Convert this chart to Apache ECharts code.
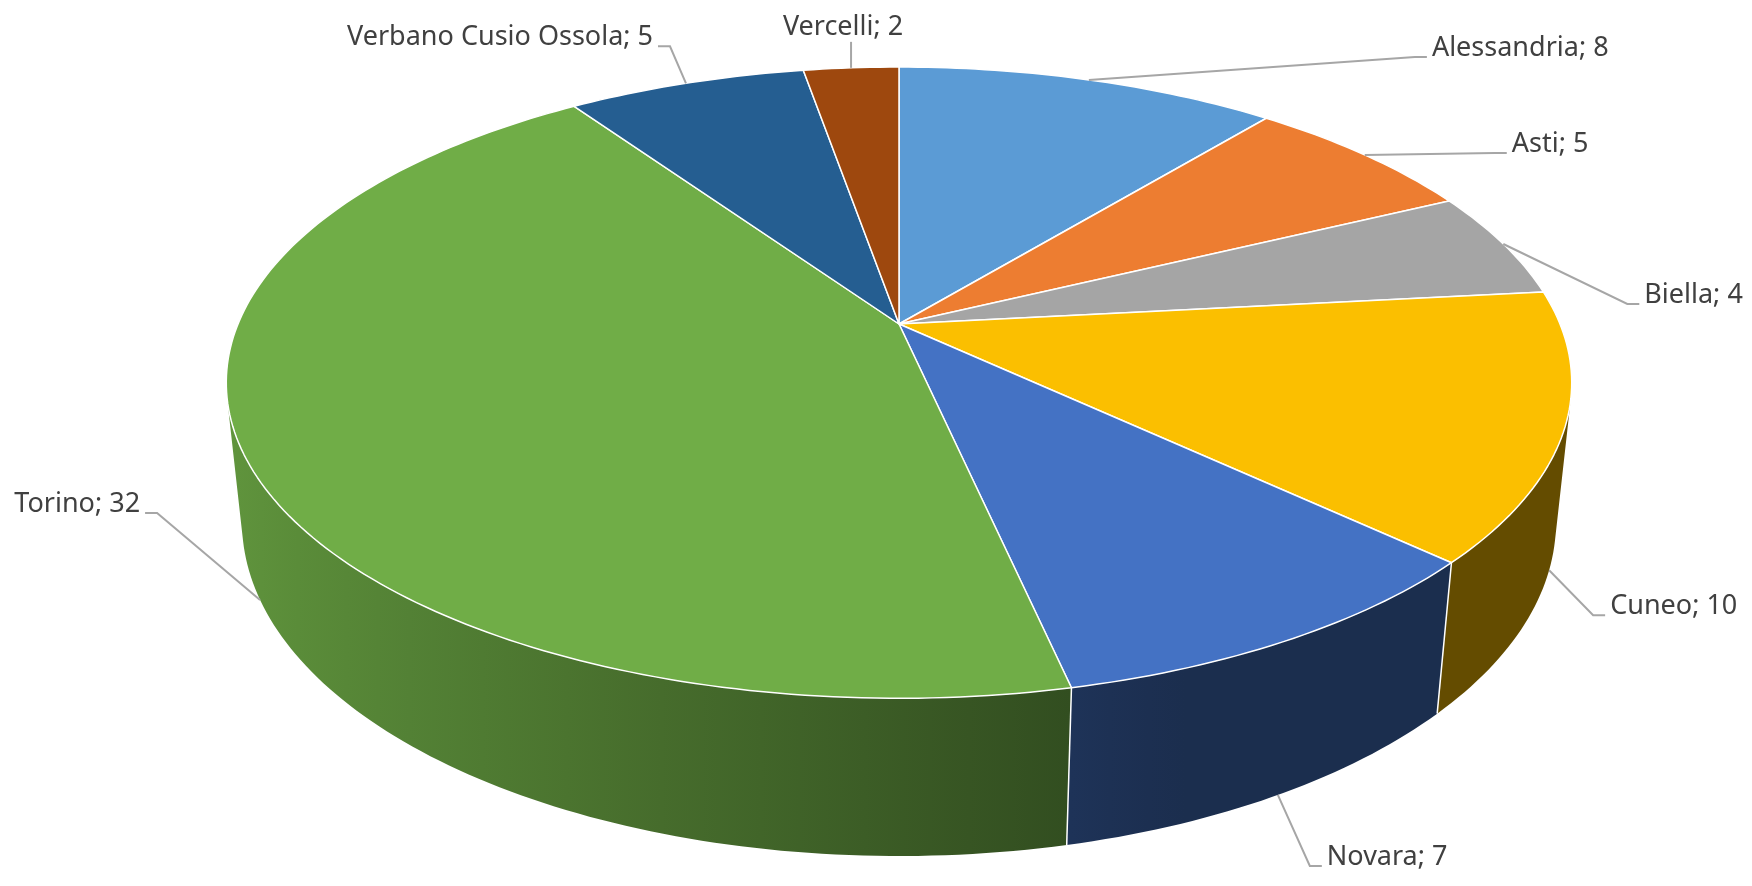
<!DOCTYPE html>
<html>
<head>
<meta charset="utf-8">
<script src="https://cdn.jsdelivr.net/npm/echarts@6/dist/echarts.min.js"></script>
<style>
  html, body { margin: 0; padding: 0; background: #fff; }
  #chart { width: 1752px; height: 886px; }
</style>
</head>
<body>
<div id="chart"></div>
<script>
// dati
var provinces = ['Alessandria', 'Asti', 'Biella', 'Cuneo', 'Novara', 'Torino', 'Verbano Cusio Ossola', 'Vercelli'];
var counts = [8, 5, 4, 10, 7, 32, 5, 2];
var sliceColors = ['#5B9BD5', '#ED7D31', '#A5A5A5', '#FBBF00', '#4472C4', '#70AD47', '#255E91', '#9E480E'];

// vista 3d (prospettiva stile Excel)
var CX = 899, CY = 324, SCALE = 661, DIST = 4.775, DEPTH = 0.24;
var TILT = 27.45 * Math.PI / 180;
var VIS_LO = Math.acos(-1 / (DIST * Math.cos(TILT)));
var VIS_HI = 2 * Math.PI - VIS_LO;

// posizione etichette: [dx, dy] dal punto di ancoraggio al gomito, direzione del tratto
var labelLayout = [
  [326, -23, 1], [130, -2, 1], [124, 60, 1], [44, 45, 1],
  [32, 71, 1], [-103, -87, -1], [-16, -37, -1], [0, -26, 0]
];

var total = counts.reduce(function (s, v) { return s + v; }, 0);
var startAng = [], endAng = [];
var acc = 0;
counts.forEach(function (v) {
  startAng.push(acc / total * 2 * Math.PI);
  acc += v;
  endAng.push(acc / total * 2 * Math.PI);
});

function proj(phi, y) {
  var X = Math.sin(phi), Z = -Math.cos(phi);
  var dep = DIST - (y * Math.sin(TILT) + Z * Math.cos(TILT));
  var k = DIST / dep;
  return [CX + SCALE * X * k, CY - SCALE * (y * Math.cos(TILT) - Z * Math.sin(TILT)) * k];
}

function arc(a, b, y) {
  var n = Math.max(2, Math.ceil(Math.abs(b - a) / (Math.PI / 180)));
  var pts = [];
  for (var j = 0; j <= n; j++) pts.push(proj(a + (b - a) * j / n, y));
  return pts;
}

function shadeFactor(phi) {
  var s = 0.45 + 0.35 * (0.208 - Math.sin(phi));
  return Math.max(0.40, Math.min(0.9, s));
}

function shade(hex, f) {
  var r = parseInt(hex.slice(1, 3), 16), g = parseInt(hex.slice(3, 5), 16), b = parseInt(hex.slice(5, 7), 16);
  return 'rgb(' + Math.round(r * f) + ',' + Math.round(g * f) + ',' + Math.round(b * f) + ')';
}

function renderSlice(params, api) {
  var i = params.dataIndex;
  var a0 = startAng[i], a1 = endAng[i];
  var base = sliceColors[i];
  var children = [];

  // faccia superiore
  children.push({
    type: 'polygon',
    shape: { points: [[CX, CY]].concat(arc(a0, a1, 0)) },
    style: { fill: base, stroke: '#fff', lineWidth: 1.5, lineJoin: 'round' },
    z2: 100
  });

  // parete laterale visibile
  var lo = Math.max(a0, VIS_LO), hi = Math.min(a1, VIS_HI);
  if (lo < hi) {
    var pts = arc(lo, hi, 0).concat(arc(hi, lo, -DEPTH));
    var xl = proj(hi, 0)[0], xr = proj(lo, 0)[0];
    var stops = [];
    for (var j = 0; j <= 12; j++) {
      var p = lo + (hi - lo) * j / 12;
      var sx = proj(p, 0)[0];
      stops.push({ offset: Math.min(1, Math.max(0, (sx - xl) / (xr - xl))), color: shade(base, shadeFactor(p)) });
    }
    stops.sort(function (s1, s2) { return s1.offset - s2.offset; });
    children.push({
      type: 'polygon',
      shape: { points: pts },
      style: {
        fill: { type: 'linear', x: xl, y: 0, x2: xr, y2: 0, global: true, colorStops: stops },
        stroke: null
      },
      z2: 10
    });
  }
  if (a0 > VIS_LO && a0 < VIS_HI) {
    children.push({
      type: 'line',
      shape: { x1: proj(a0, 0)[0], y1: proj(a0, 0)[1], x2: proj(a0, -DEPTH)[0], y2: proj(a0, -DEPTH)[1] },
      style: { stroke: '#fff', lineWidth: 1.5 },
      z2: 50
    });
  }

  // etichetta con linea guida
  var mid = (a0 + a1) / 2;
  var front = mid > VIS_LO && mid < VIS_HI;
  var anchor = proj(mid, front ? -DEPTH : 0);
  var lay = labelLayout[i];
  var elbow = [anchor[0] + lay[0], anchor[1] + lay[1]];
  var linePts = [anchor, elbow];
  var txt = provinces[i] + '; ' + api.value(0);
  var textStyle = { text: txt, fill: '#404040', fontSize: 27, fontFamily: 'Noto Sans' };
  if (lay[2] === 0) {
    textStyle.x = elbow[0] - 8; textStyle.y = elbow[1] - 1;
    textStyle.align = 'center'; textStyle.verticalAlign = 'bottom';
  } else {
    var end = [elbow[0] + lay[2] * 12, elbow[1]];
    linePts.push(end);
    textStyle.x = end[0] + lay[2] * 5; textStyle.y = elbow[1] - 9;
    textStyle.align = lay[2] > 0 ? 'left' : 'right'; textStyle.verticalAlign = 'middle';
  }
  children.push({
    type: 'polyline',
    shape: { points: linePts },
    style: { stroke: '#A6A6A6', lineWidth: 2, fill: null },
    z2: 150
  });
  children.push({ type: 'text', style: textStyle, z2: 160 });

  return { type: 'group', children: children };
}

var chart = echarts.init(document.getElementById('chart'));
chart.setOption({
  backgroundColor: '#fff',
  animation: false,
  series: [{
    type: 'custom',
    coordinateSystem: 'none',
    renderItem: renderSlice,
    data: provinces.map(function (p, i) { return { name: p, value: counts[i] }; })
  }]
});
</script>
</body>
</html>
